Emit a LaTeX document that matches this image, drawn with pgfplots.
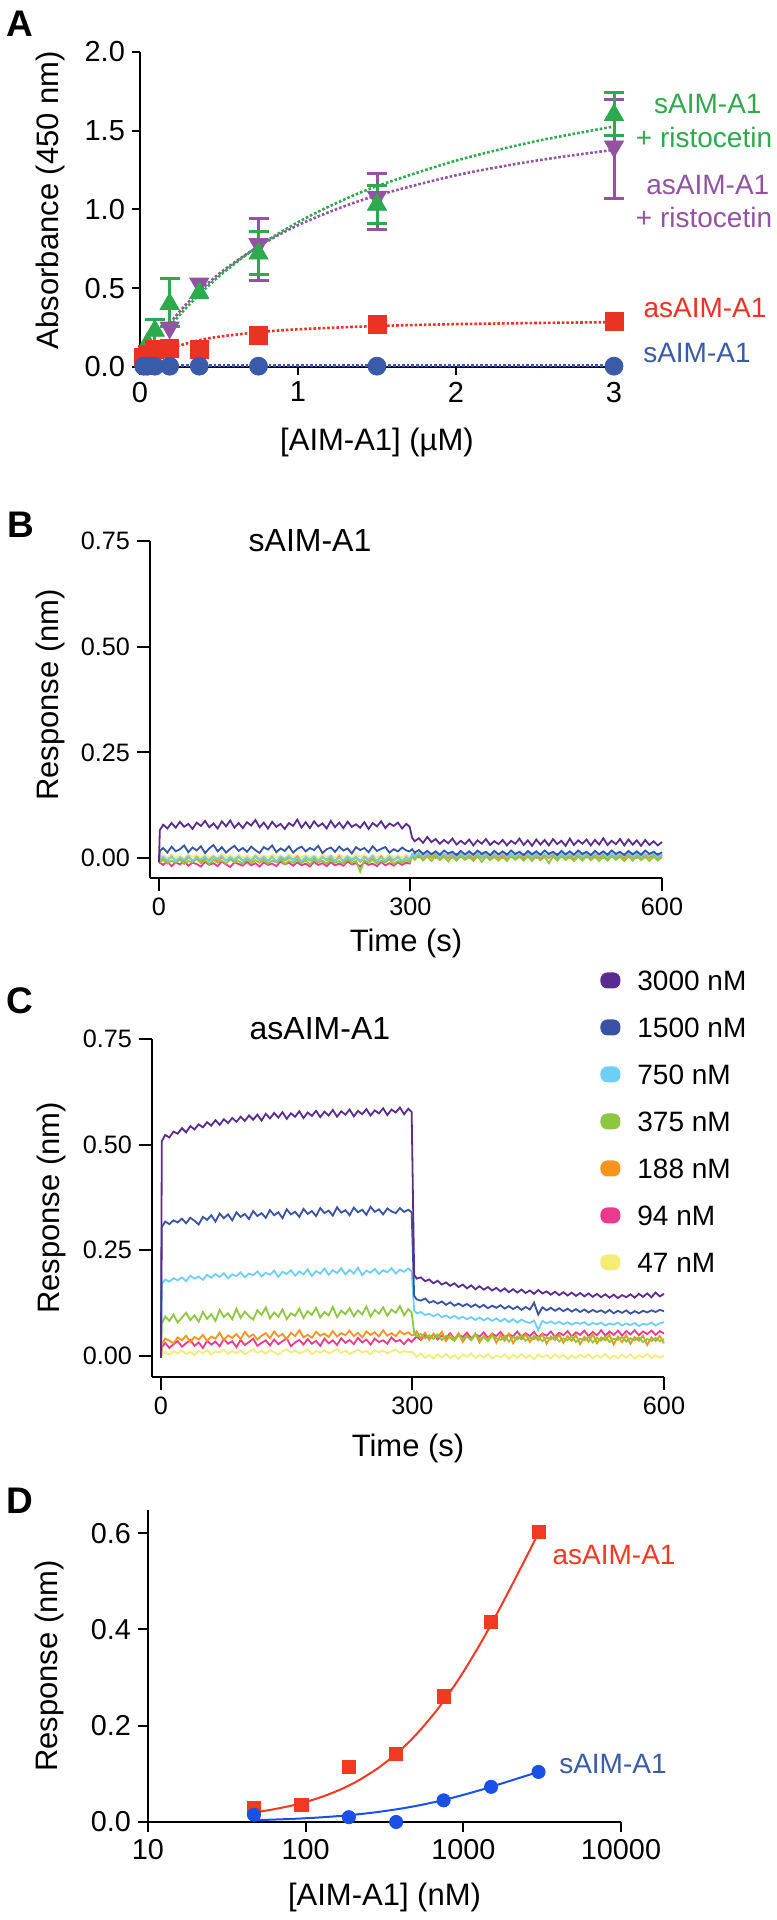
\documentclass[border=0pt]{standalone}
\usepackage{pgfplots}
\pgfplotsset{compat=1.18}
\usepackage{pgfplotstable}
\usepackage{fontspec}
\setmainfont{Liberation Sans}

\definecolor{gA}{HTML}{2DAA4B}
\definecolor{pA}{HTML}{9452A3}
\definecolor{rA}{HTML}{EA3323}
\definecolor{bA}{HTML}{3A5BA9}
\definecolor{k3000}{HTML}{5B2C8F}
\definecolor{k1500}{HTML}{3953A4}
\definecolor{k750}{HTML}{6DCFF6}
\definecolor{k375}{HTML}{8DC63F}
\definecolor{k188}{HTML}{F7941D}
\definecolor{k94}{HTML}{EC3B8D}
\definecolor{k47}{HTML}{F5EC78}
\definecolor{dR}{HTML}{F23A22}
\definecolor{dB}{HTML}{1A50E6}

\pgfplotstableread{
t a3000 a1500 a750 a375 a188 a94 a47
0 -0.010 -0.008 -0.006 -0.008 -0.010 -0.012 -0.005
1 0.066 0.017 -0.002 -0.009 -0.004 -0.011 0.003
5 0.079 0.024 0.003 -0.004 0.001 -0.016 0.007
10 0.070 0.013 -0.005 -0.013 -0.007 -0.008 0.001
15 0.083 0.027 0.004 -0.006 0.003 -0.019 0.009
20 0.072 0.016 -0.007 -0.011 -0.005 -0.010 0.002
25 0.086 0.021 0.002 -0.003 0.000 -0.015 0.006
30 0.074 0.030 -0.004 -0.014 -0.009 -0.007 0.000
35 0.081 0.014 0.005 -0.007 0.002 -0.018 0.008
40 0.069 0.025 -0.006 -0.010 -0.006 -0.011 0.003
45 0.084 0.018 0.001 -0.002 0.003 -0.014 0.007
50 0.076 0.028 -0.003 -0.012 -0.008 -0.020 0.001
55 0.088 0.012 0.004 -0.005 0.000 -0.009 0.009
60 0.073 0.023 -0.008 -0.015 -0.004 -0.016 0.002
65 0.082 0.031 0.003 -0.004 0.004 -0.012 0.006
70 0.070 0.016 -0.002 -0.011 -0.007 -0.019 0.000
75 0.087 0.026 0.005 -0.006 0.001 -0.008 0.010
80 0.075 0.013 -0.006 -0.013 -0.005 -0.015 0.003
85 0.089 0.022 0.002 -0.003 0.002 -0.021 0.007
90 0.072 0.029 -0.004 -0.010 -0.009 -0.010 0.001
95 0.083 0.017 0.004 -0.007 0.003 -0.014 0.008
100 0.071 0.024 -0.007 -0.014 -0.006 -0.018 0.002
105 0.085 0.015 0.001 -0.002 0.000 -0.009 0.006
110 0.077 0.027 -0.005 -0.012 -0.008 -0.017 0.000
115 0.090 0.019 0.005 -0.005 0.004 -0.012 0.009
120 0.073 0.012 -0.003 -0.011 -0.005 -0.020 0.003
125 0.084 0.026 0.003 -0.004 0.001 -0.010 0.007
130 0.070 0.020 -0.006 -0.013 -0.007 -0.016 0.001
135 0.086 0.030 0.002 -0.006 0.003 -0.013 0.008
140 0.074 0.014 -0.008 -0.010 -0.009 -0.019 0.002
145 0.081 0.023 0.004 -0.003 0.002 -0.008 0.006
150 0.069 0.017 -0.002 -0.014 -0.006 -0.015 0.000
155 0.083 0.028 0.005 -0.007 0.000 -0.011 0.009
160 0.076 0.013 -0.005 -0.011 -0.004 -0.018 0.003
165 0.091 0.022 0.001 -0.004 0.004 -0.010 0.007
170 0.072 0.027 -0.007 -0.012 -0.008 -0.017 0.001
175 0.085 0.016 0.003 -0.005 0.001 -0.013 0.008
180 0.071 0.024 -0.004 -0.015 -0.006 -0.020 0.002
185 0.087 0.019 0.004 -0.003 0.002 -0.009 0.006
190 0.075 0.029 -0.006 -0.010 -0.009 -0.016 0.000
195 0.082 0.012 0.002 -0.006 0.003 -0.012 0.009
200 0.070 0.021 -0.003 -0.013 -0.005 -0.019 0.003
205 0.088 0.025 0.005 -0.004 0.000 -0.010 0.007
210 0.073 0.015 -0.007 -0.011 -0.007 -0.017 0.001
215 0.084 0.027 0.001 -0.007 0.004 -0.013 0.008
220 0.071 0.018 -0.005 -0.014 -0.008 -0.018 0.002
225 0.086 0.023 0.004 -0.002 0.001 -0.008 0.006
230 0.074 0.011 -0.004 -0.012 -0.006 -0.015 0.000
235 0.080 0.026 0.003 -0.006 0.002 -0.012 0.009
240 0.072 0.019 -0.006 -0.032 -0.009 -0.020 0.003
245 0.085 0.024 0.002 -0.005 0.003 -0.010 0.007
250 0.069 0.014 -0.003 -0.011 -0.005 -0.016 0.001
255 0.083 0.028 0.005 -0.004 0.000 -0.013 0.008
260 0.075 0.017 -0.007 -0.013 -0.007 -0.019 0.002
265 0.087 0.022 0.001 -0.006 0.004 -0.009 0.006
270 0.071 0.026 -0.005 -0.010 -0.008 -0.017 0.000
275 0.082 0.013 0.004 -0.003 0.001 -0.012 0.009
280 0.076 0.021 -0.004 -0.014 -0.006 -0.018 0.003
285 0.084 0.016 0.003 -0.007 0.002 -0.010 0.007
290 0.070 0.025 -0.006 -0.012 -0.009 -0.016 0.001
295 0.081 0.018 0.002 -0.005 0.003 -0.011 0.008
299 0.074 0.016 -0.003 -0.009 -0.006 -0.013 0.002
302 0.048 0.021 0.010 0.004 0.008 0.006 0.005
305 0.040 0.013 0.005 -0.004 0.002 0.010 0.008
310 0.047 0.019 0.012 0.006 0.010 0.002 0.004
315 0.036 0.010 0.004 -0.006 0.000 0.009 0.009
320 0.050 0.017 0.011 0.004 0.008 0.003 0.003
325 0.038 0.009 0.006 -0.007 0.001 0.010 0.008
330 0.045 0.016 0.013 0.005 0.009 0.001 0.004
335 0.034 0.008 0.003 -0.005 -0.001 0.008 0.009
340 0.043 0.018 0.010 0.003 0.007 0.004 0.003
345 0.035 0.011 0.005 -0.008 0.000 0.009 0.008
350 0.046 0.015 0.012 0.004 0.008 0.002 0.004
355 0.032 0.007 0.003 -0.006 -0.002 0.010 0.009
360 0.041 0.017 0.011 0.005 0.009 0.003 0.003
365 0.033 0.009 0.004 -0.004 0.000 0.008 0.008
370 0.044 0.016 0.010 0.003 0.007 0.001 0.004
375 0.030 0.008 0.005 -0.007 -0.001 0.009 0.009
380 0.042 0.018 0.012 0.005 0.008 0.004 0.003
385 0.034 0.010 0.003 -0.009 0.000 0.010 0.008
390 0.045 0.015 0.011 0.004 0.009 0.002 0.004
395 0.031 0.007 0.004 -0.005 -0.001 0.008 0.009
400 0.040 0.017 0.010 0.003 0.007 0.003 0.003
405 0.033 0.009 0.005 -0.006 0.000 0.009 0.008
410 0.043 0.016 0.012 0.004 0.008 0.001 0.004
415 0.030 0.008 0.003 -0.007 -0.002 0.010 0.009
420 0.041 0.018 0.011 0.005 0.009 0.004 0.003
425 0.034 0.010 0.004 -0.004 0.000 0.008 0.008
430 0.046 0.015 0.010 0.003 0.007 0.002 0.004
435 0.031 0.007 0.005 -0.006 -0.001 0.009 0.009
440 0.042 0.017 0.012 0.004 0.008 0.003 0.003
445 0.029 0.009 0.003 -0.007 0.000 0.010 0.008
450 0.044 0.016 0.011 0.005 0.009 0.001 0.004
455 0.032 0.008 0.004 -0.005 -0.002 0.008 0.009
460 0.043 0.018 0.010 0.003 0.007 0.004 0.003
465 0.030 0.010 0.005 -0.012 0.000 0.009 0.008
470 0.045 0.015 0.012 0.004 0.008 0.002 0.004
475 0.033 0.007 0.003 -0.006 -0.001 0.010 0.009
480 0.041 0.017 0.011 0.005 0.009 0.003 0.003
485 0.029 0.009 0.004 -0.004 0.000 0.008 0.008
490 0.046 0.016 0.010 0.003 0.007 0.001 0.004
495 0.031 0.008 0.005 -0.007 -0.002 0.009 0.009
500 0.042 0.018 0.012 0.004 0.008 0.004 0.003
505 0.034 0.010 0.003 -0.006 0.000 0.010 0.008
510 0.044 0.015 0.011 0.005 0.009 0.002 0.004
515 0.030 0.007 0.004 -0.005 -0.001 0.008 0.009
520 0.043 0.017 0.010 0.003 0.007 0.003 0.003
525 0.032 0.009 0.005 -0.007 0.000 0.009 0.008
530 0.047 0.016 0.012 0.004 0.008 0.001 0.004
535 0.031 0.008 0.003 -0.006 -0.002 0.010 0.009
540 0.041 0.018 0.011 0.005 0.009 0.004 0.003
545 0.033 0.010 0.004 -0.004 0.000 0.008 0.008
550 0.045 0.015 0.010 0.003 0.007 0.002 0.004
555 0.030 0.007 0.005 -0.007 -0.001 0.009 0.009
560 0.044 0.017 0.012 0.004 0.008 0.003 0.003
565 0.032 0.009 0.003 -0.006 0.000 0.010 0.008
570 0.042 0.016 0.011 0.005 0.009 0.001 0.004
575 0.029 0.008 0.004 -0.005 -0.002 0.008 0.009
580 0.043 0.018 0.010 0.003 0.007 0.004 0.003
585 0.031 0.010 0.005 -0.007 0.000 0.009 0.008
590 0.040 0.015 0.012 0.004 0.008 0.002 0.004
595 0.030 0.008 0.003 -0.006 -0.001 0.010 0.009
600 0.038 0.014 0.010 0.003 0.007 0.004 0.004
}\tabB

\pgfplotstableread{
t a3000 a1500 a750 a375 a188 a94 a47
0 -0.004 -0.004 -0.003 -0.002 -0.003 -0.004 -0.005
1 0.508 0.305 0.170 0.076 0.028 0.020 0.001
5 0.523 0.318 0.181 0.094 0.041 0.031 0.009
10 0.517 0.312 0.176 0.083 0.036 0.019 0.003
15 0.531 0.321 0.184 0.098 0.030 0.028 0.011
20 0.526 0.316 0.179 0.079 0.044 0.035 0.006
25 0.539 0.325 0.186 0.091 0.037 0.022 0.013
30 0.529 0.314 0.177 0.102 0.048 0.030 0.004
35 0.544 0.327 0.190 0.085 0.033 0.038 0.010
40 0.536 0.320 0.183 0.096 0.045 0.024 0.002
45 0.548 0.311 0.188 0.081 0.039 0.032 0.012
50 0.541 0.329 0.180 0.104 0.050 0.019 0.007
55 0.553 0.322 0.192 0.088 0.036 0.036 0.014
60 0.545 0.333 0.185 0.099 0.046 0.027 0.003
65 0.558 0.318 0.194 0.083 0.041 0.034 0.011
70 0.547 0.337 0.187 0.109 0.055 0.023 0.008
75 0.560 0.326 0.196 0.092 0.038 0.040 0.015
80 0.551 0.335 0.184 0.101 0.049 0.029 0.005
85 0.563 0.321 0.193 0.087 0.043 0.035 0.012
90 0.554 0.340 0.189 0.112 0.052 0.021 0.006
95 0.566 0.329 0.198 0.090 0.040 0.038 0.013
100 0.556 0.336 0.186 0.105 0.057 0.026 0.004
105 0.569 0.324 0.195 0.094 0.045 0.033 0.010
110 0.559 0.343 0.191 0.086 0.051 0.041 0.016
115 0.571 0.331 0.200 0.108 0.039 0.024 0.007
120 0.557 0.338 0.188 0.097 0.048 0.031 0.012
125 0.573 0.327 0.197 0.115 0.054 0.037 0.005
130 0.562 0.345 0.192 0.089 0.042 0.025 0.014
135 0.575 0.333 0.202 0.103 0.058 0.039 0.009
140 0.564 0.340 0.187 0.093 0.046 0.028 0.003
145 0.577 0.326 0.199 0.110 0.052 0.035 0.011
150 0.561 0.347 0.194 0.087 0.040 0.042 0.016
155 0.574 0.335 0.203 0.101 0.055 0.023 0.008
160 0.566 0.341 0.190 0.095 0.047 0.032 0.013
165 0.579 0.329 0.200 0.112 0.061 0.038 0.006
170 0.563 0.348 0.193 0.090 0.044 0.027 0.010
175 0.576 0.336 0.205 0.106 0.050 0.040 0.015
180 0.568 0.343 0.189 0.097 0.043 0.029 0.004
185 0.580 0.331 0.201 0.114 0.057 0.036 0.012
190 0.565 0.350 0.195 0.091 0.048 0.024 0.008
195 0.578 0.338 0.207 0.104 0.053 0.041 0.014
200 0.569 0.344 0.192 0.096 0.045 0.030 0.006
205 0.582 0.332 0.203 0.116 0.059 0.037 0.011
210 0.566 0.352 0.196 0.092 0.046 0.026 0.016
215 0.579 0.339 0.208 0.107 0.054 0.042 0.007
220 0.571 0.345 0.193 0.099 0.049 0.031 0.013
225 0.583 0.333 0.204 0.113 0.060 0.038 0.005
230 0.567 0.351 0.195 0.094 0.047 0.028 0.010
235 0.580 0.340 0.209 0.108 0.055 0.043 0.015
240 0.572 0.346 0.191 0.098 0.044 0.032 0.008
245 0.584 0.334 0.202 0.117 0.058 0.039 0.012
250 0.569 0.353 0.197 0.093 0.050 0.027 0.004
255 0.581 0.341 0.206 0.109 0.056 0.041 0.014
260 0.574 0.347 0.194 0.100 0.046 0.033 0.009
265 0.586 0.335 0.203 0.115 0.061 0.037 0.013
270 0.570 0.349 0.198 0.095 0.048 0.029 0.006
275 0.583 0.342 0.208 0.110 0.054 0.044 0.011
280 0.576 0.338 0.195 0.102 0.047 0.034 0.016
285 0.588 0.350 0.204 0.118 0.059 0.038 0.007
290 0.572 0.341 0.199 0.096 0.051 0.028 0.012
295 0.585 0.346 0.207 0.111 0.056 0.040 0.009
299 0.577 0.340 0.200 0.103 0.049 0.033 0.010
302 0.192 0.142 0.108 0.055 0.050 0.040 0.005
305 0.183 0.134 0.101 0.047 0.058 0.046 -0.002
310 0.186 0.131 0.104 0.052 0.041 0.038 0.006
315 0.177 0.136 0.097 0.042 0.055 0.049 -0.004
320 0.181 0.126 0.100 0.049 0.038 0.041 0.003
325 0.172 0.130 0.094 0.040 0.052 0.052 -0.006
330 0.178 0.124 0.099 0.051 0.044 0.039 0.004
335 0.169 0.129 0.092 0.038 0.057 0.048 -0.003
340 0.174 0.121 0.096 0.047 0.035 0.043 0.005
345 0.166 0.127 0.090 0.043 0.050 0.054 -0.005
350 0.172 0.119 0.095 0.036 0.040 0.040 0.002
355 0.163 0.124 0.088 0.049 0.054 0.050 -0.007
360 0.169 0.118 0.093 0.041 0.033 0.045 0.004
365 0.160 0.123 0.087 0.046 0.048 0.055 -0.002
370 0.167 0.116 0.092 0.037 0.039 0.042 0.006
375 0.158 0.122 0.085 0.050 0.053 0.051 -0.005
380 0.165 0.115 0.091 0.040 0.032 0.046 0.003
385 0.157 0.121 0.084 0.045 0.047 0.056 -0.004
390 0.163 0.113 0.090 0.035 0.041 0.043 0.005
395 0.155 0.119 0.083 0.048 0.052 0.053 -0.006
400 0.161 0.114 0.089 0.042 0.031 0.047 0.001
405 0.153 0.120 0.082 0.038 0.049 0.057 -0.003
410 0.160 0.112 0.088 0.047 0.036 0.044 0.004
415 0.151 0.118 0.080 0.034 0.053 0.052 -0.007
420 0.158 0.111 0.087 0.045 0.030 0.046 0.003
425 0.150 0.117 0.079 0.039 0.046 0.058 -0.004
430 0.157 0.109 0.086 0.048 0.039 0.045 0.005
435 0.149 0.116 0.081 0.036 0.051 0.054 -0.005
440 0.155 0.110 0.078 0.044 0.033 0.047 0.002
445 0.147 0.126 0.084 0.040 0.048 0.057 -0.008
450 0.156 0.098 0.062 0.046 0.037 0.044 0.004
455 0.148 0.115 0.083 0.035 0.052 0.053 -0.003
460 0.153 0.108 0.077 0.043 0.029 0.048 0.002
465 0.145 0.114 0.082 0.039 0.046 0.058 -0.006
470 0.152 0.107 0.076 0.047 0.038 0.045 0.004
475 0.144 0.113 0.081 0.034 0.050 0.055 -0.004
480 0.151 0.106 0.075 0.042 0.031 0.049 0.003
485 0.143 0.112 0.080 0.038 0.047 0.059 -0.007
490 0.150 0.105 0.074 0.046 0.036 0.046 0.001
495 0.142 0.111 0.079 0.033 0.049 0.056 -0.005
500 0.149 0.104 0.076 0.041 0.028 0.050 0.003
505 0.141 0.110 0.080 0.037 0.045 0.060 -0.003
510 0.148 0.103 0.073 0.045 0.034 0.047 0.004
515 0.140 0.109 0.078 0.032 0.051 0.057 -0.006
520 0.147 0.104 0.075 0.043 0.030 0.049 0.002
525 0.139 0.108 0.079 0.036 0.044 0.061 -0.004
530 0.146 0.102 0.072 0.046 0.037 0.048 0.005
535 0.138 0.109 0.077 0.033 0.050 0.058 -0.006
540 0.145 0.101 0.074 0.041 0.027 0.050 0.001
545 0.137 0.107 0.079 0.038 0.046 0.060 -0.005
550 0.144 0.102 0.072 0.045 0.033 0.048 0.003
555 0.139 0.108 0.077 0.034 0.049 0.059 -0.004
560 0.146 0.100 0.073 0.042 0.029 0.051 0.004
565 0.138 0.106 0.078 0.037 0.045 0.061 -0.007
570 0.147 0.101 0.071 0.044 0.036 0.049 0.002
575 0.140 0.107 0.076 0.033 0.048 0.058 -0.003
580 0.148 0.103 0.074 0.040 0.026 0.052 0.005
585 0.139 0.108 0.079 0.036 0.044 0.060 -0.005
590 0.150 0.104 0.072 0.043 0.035 0.050 0.002
595 0.141 0.109 0.077 0.035 0.047 0.059 -0.004
600 0.147 0.106 0.080 0.040 0.030 0.053 0.001
}\tabC

\pgfplotsset{
  mybase/.style={
    scale only axis, clip=false,
    axis x line=bottom, axis y line=left,
    axis line style={line width=1pt, -},
    tick align=outside,
    major tick style={line width=1pt, black},
    /pgf/number format/assume math mode=true,
    label style={font=\fontsize{15.5}{18}\selectfont},
    x label style={anchor=center},
    y label style={anchor=center},
  },
  trace/.style={line width=0.9pt},
}

\begin{document}
\begin{tikzpicture}
\useasboundingbox (0,0) rectangle (388pt,960pt);

% ---------------- Panel A ----------------
\begin{axis}[mybase,
  at={(70pt,776.5pt)}, anchor=south west,
  width=237pt, height=157.5pt,
  xmin=0, xmax=3, ymin=0, ymax=2,
  xtick={0,1,2,3}, ytick={0,0.5,1,1.5,2},
  yticklabel style={/pgf/number format/.cd, fixed, fixed zerofill, precision=1},
  tick label style={font=\fontsize{14.5}{16}\selectfont},
  major tick length=4pt,
  xlabel={[AIM-A1] (µM)}, ylabel={Absorbance (450 nm)},
  x label style={at={([yshift=-38pt]axis description cs:0.5,0)}},
  y label style={at={([xshift=-45pt]axis description cs:0,0.53)}},
]
% fits
\addplot[pA, densely dotted, line width=1.3pt, smooth, forget plot] coordinates {
(0.19,0.279)(0.3,0.406)(0.5,0.591)(0.75,0.766)(1,0.900)(1.25,1.004)(1.5,1.089)(2,1.217)(2.5,1.309)(3,1.379)};
\addplot[gA, densely dotted, line width=1.3pt, smooth, forget plot] coordinates {
(0.19,0.259)(0.3,0.384)(0.5,0.576)(0.75,0.767)(1,0.919)(1.25,1.044)(1.5,1.148)(2,1.310)(2.5,1.432)(3,1.527)};
\addplot[rA, densely dotted, line width=1.3pt, smooth, forget plot] coordinates {
(0.1,0.075)(0.2,0.121)(0.375,0.170)(0.5,0.192)(0.75,0.221)(1,0.239)(1.5,0.260)(2,0.272)(2.5,0.279)(3,0.285)};
\addplot[bA, densely dotted, line width=1.3pt, forget plot] coordinates {(0,0.008)(3,0.008)};
% error bars
\addplot[forget plot, draw=none, mark=none,
  error bars/.cd, y dir=both, y explicit,
  error bar style={draw=pA, line width=1.5pt, solid},
  error mark options={draw=pA, line width=1.5pt, mark size=5pt, rotate=90}]
coordinates {(3,1.40) += (0,0.30) -= (0,0.33)
 (1.5,1.08) += (0,0.15) -= (0,0.21)
 (0.75,0.78) += (0,0.16) -= (0,0.23)};
\addplot[only marks, mark=triangle*, mark size=5.5pt, color=pA, mark options={rotate=180}] coordinates {
(0.0234,0.06)(0.047,0.08)(0.094,0.12)(0.1875,0.25)(0.375,0.53)(0.75,0.78)(1.5,1.08)(3,1.40)};
\addplot[forget plot, draw=none, mark=none,
  error bars/.cd, y dir=both, y explicit,
  error bar style={draw=gA, line width=1.5pt, solid},
  error mark options={draw=gA, line width=1.5pt, mark size=5pt, rotate=90}]
coordinates {(3,1.60) += (0,0.145) -= (0,0.13)
 (1.5,1.03) += (0,0.12) -= (0,0.12)
 (0.75,0.72) += (0,0.14) -= (0,0.13)
 (0.1875,0.40) += (0,0.16) -= (0,0.14)
 (0.094,0.23) += (0,0.07) -= (0,0.07)};
\addplot[only marks, mark=triangle*, mark size=5.5pt, color=gA] coordinates {
(0.0234,0.10)(0.047,0.15)(0.094,0.23)(0.1875,0.40)(0.375,0.47)(0.75,0.72)(1.5,1.03)(3,1.60)};
\addplot[only marks, mark=square*, mark size=4.5pt, color=rA] coordinates {
(0.0234,0.06)(0.047,0.08)(0.094,0.11)(0.1875,0.12)(0.375,0.11)(0.75,0.20)(1.5,0.27)(3,0.29)};
\addplot[only marks, mark=*, mark size=4.5pt, color=bA] coordinates {
(0.0234,0.005)(0.047,0.005)(0.094,0.005)(0.1875,0.005)(0.375,0.005)(0.75,0.005)(1.5,0.005)(3,0.005)};
\node[font=\fontsize{14}{16}\selectfont, text=gA] at (rel axis cs:1.198,0.835) {sAIM-A1};
\node[font=\fontsize{14}{16}\selectfont, text=gA] at (rel axis cs:1.190,0.730) {+ ristocetin};
\node[font=\fontsize{14}{16}\selectfont, text=pA] at (rel axis cs:1.198,0.578) {asAIM-A1};
\node[font=\fontsize{14}{16}\selectfont, text=pA] at (rel axis cs:1.190,0.473) {+ ristocetin};
\node[font=\fontsize{14}{16}\selectfont, text=rA] at (rel axis cs:1.192,0.187) {asAIM-A1};
\node[font=\fontsize{14}{16}\selectfont, text=bA] at (rel axis cs:1.175,0.045) {sAIM-A1};
\node[font=\bfseries\fontsize{18.5}{20}\selectfont] at (rel axis cs:-0.253,1.089) {A};
\end{axis}

% ---------------- Panel B ----------------
\begin{axis}[mybase,
  at={(75pt,521pt)}, anchor=south west,
  width=256pt, height=168.5pt,
  xmin=-10.7, xmax=600, ymin=-0.047, ymax=0.75,
  xtick={0,300,600}, ytick={0,0.25,0.5,0.75},
  yticklabel style={/pgf/number format/.cd, fixed, fixed zerofill, precision=2},
  tick label style={font=\fontsize{12.6}{14}\selectfont},
  major tick length=6.5pt,
  xlabel={Time (s)}, ylabel={Response (nm)},
  x label style={at={([yshift=-32.5pt]axis description cs:0.5,0)}},
  y label style={at={([xshift=-50pt]axis description cs:0,0.543)}},
]
\addplot[trace, k47] table[x=t, y=a47] {\tabB};
\addplot[trace, k94] table[x=t, y=a94] {\tabB};
\addplot[trace, k188] table[x=t, y=a188] {\tabB};
\addplot[trace, k375] table[x=t, y=a375] {\tabB};
\addplot[trace, k750] table[x=t, y=a750] {\tabB};
\addplot[trace, k1500] table[x=t, y=a1500] {\tabB};
\addplot[trace, k3000] table[x=t, y=a3000] {\tabB};
\node[font=\fontsize{16}{18}\selectfont] at (rel axis cs:0.3125,1.0) {sAIM-A1};
\node[font=\bfseries\fontsize{18.5}{20}\selectfont] at (rel axis cs:-0.252,1.047) {B};
\end{axis}

% ---------------- Panel C ----------------
\begin{axis}[mybase,
  at={(76pt,271.5pt)}, anchor=south west,
  width=256pt, height=169pt,
  xmin=-10.7, xmax=600, ymin=-0.0497, ymax=0.75,
  xtick={0,300,600}, ytick={0,0.25,0.5,0.75},
  yticklabel style={/pgf/number format/.cd, fixed, fixed zerofill, precision=2},
  tick label style={font=\fontsize{12.6}{14}\selectfont},
  major tick length=6.5pt,
  xlabel={Time (s)}, ylabel={Response (nm)},
  x label style={at={([yshift=-35.5pt]axis description cs:0.5,0)}},
  y label style={at={([xshift=-50.5pt]axis description cs:0,0.5)}},
  legend image code/.code={\fill[draw=none, rounded corners=3.5pt] (0pt,-4pt) rectangle (10pt,4pt); \path[draw=none, fill=none] (0pt,0pt) (18.5pt,0pt);},
  reverse legend,
  legend style={at={(0.875,1.204)}, anchor=north west, draw=none, fill=none,
    font=\fontsize{14}{16}\selectfont, inner sep=0pt, row sep=13.5pt,
    nodes={inner sep=0pt, text height=10pt, text depth=0pt}},
  legend cell align=left,
]
\addplot[trace, k47] table[x=t, y=a47] {\tabC};
\addplot[trace, k94] table[x=t, y=a94] {\tabC};
\addplot[trace, k188] table[x=t, y=a188] {\tabC};
\addplot[trace, k375] table[x=t, y=a375] {\tabC};
\addplot[trace, k750] table[x=t, y=a750] {\tabC};
\addplot[trace, k1500] table[x=t, y=a1500] {\tabC};
\addplot[trace, k3000] table[x=t, y=a3000] {\tabC};
\legend{47 nM, 94 nM, 188 nM, 375 nM, 750 nM, 1500 nM, 3000 nM}
\node[font=\fontsize{16}{18}\selectfont] at (rel axis cs:0.328,1.03) {asAIM-A1};
\node[font=\bfseries\fontsize{18.5}{20}\selectfont] at (rel axis cs:-0.258,1.112) {C};
\end{axis}

% ---------------- Panel D ----------------
\begin{axis}[mybase,
  at={(74pt,49pt)}, anchor=south west,
  width=236.5pt, height=156pt,
  xmode=log, xmin=10, xmax=10000, ymin=0, ymax=0.648,
  xtick={10,100,1000,10000}, xticklabels={10,100,1000,10000},
  xminorticks=false,
  ytick={0,0.2,0.4,0.6},
  yticklabel style={/pgf/number format/.cd, fixed, fixed zerofill, precision=1},
  tick label style={font=\fontsize{14.4}{16}\selectfont},
  major tick length=5pt,
  xlabel={[AIM-A1] (nM)}, ylabel={Response (nm)},
  x label style={at={([yshift=-37.5pt]axis description cs:0.5,0)}},
  y label style={at={([xshift=-49.5pt]axis description cs:0,0.5)}},
]
\addplot[dR, line width=1pt, smooth] coordinates {
(47,0.0199)(60,0.0253)(80,0.0335)(100,0.0416)(130,0.0535)(170,0.0689)(220,0.0876)(300,0.1161)(400,0.1497)(500,0.1810)(650,0.2244)(800,0.2640)(1000,0.3116)(1300,0.3738)(1700,0.4432)(2200,0.5137)(2600,0.5603)(3000,0.6002)};
\addplot[dB, line width=1pt, smooth] coordinates {
(47,0.0038)(60,0.0048)(80,0.0063)(100,0.0078)(130,0.0100)(170,0.0129)(220,0.0163)(300,0.0216)(400,0.0277)(500,0.0333)(650,0.0410)(800,0.0480)(1000,0.0563)(1300,0.0669)(1700,0.0786)(2200,0.0902)(2600,0.0977)(3000,0.1041)};
\addplot[only marks, mark=square*, mark size=3.3pt, color=dR] coordinates {
(47,0.030)(94,0.035)(188,0.114)(375,0.141)(750,0.261)(1500,0.416)(3000,0.603)};
\addplot[only marks, mark=*, mark size=3.3pt, color=dB] coordinates {
(47,0.015)(188,0.010)(375,0.0)(750,0.045)(1500,0.073)(3000,0.104)};
\node[font=\fontsize{14}{16}\selectfont, text=dR] at (axis cs:9036,0.554) {asAIM-A1};
\node[font=\fontsize{14}{16}\selectfont, text=bA] at (axis cs:8892,0.120) {sAIM-A1};
\node[font=\bfseries\fontsize{18.5}{20}\selectfont] at (rel axis cs:-0.271,1.029) {D};
\end{axis}
\end{tikzpicture}
\end{document}
